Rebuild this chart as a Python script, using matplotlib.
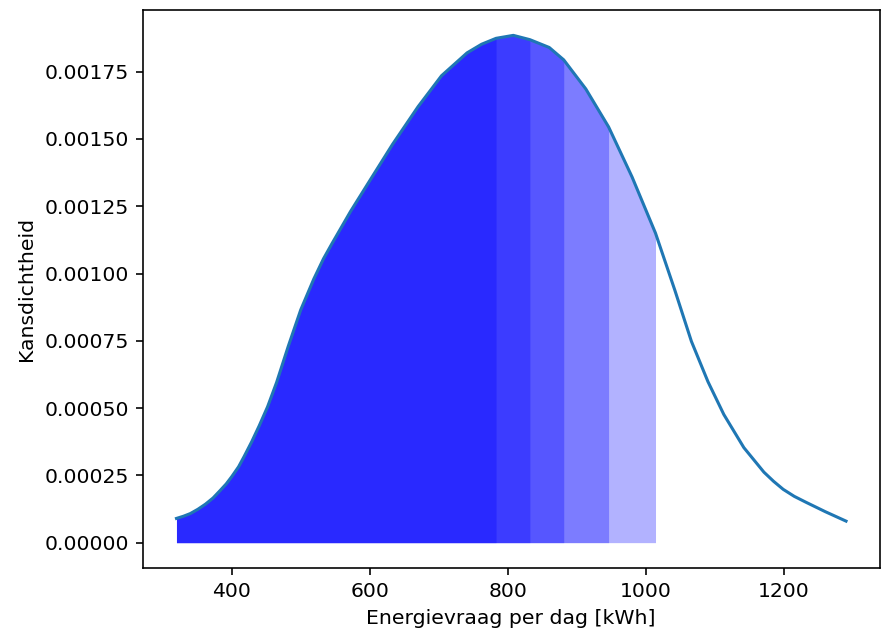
import matplotlib
matplotlib.use("Agg")
import matplotlib.pyplot as plt
import numpy as np

# energy demand per day [kWh] and estimated density
energie = [320, 330, 340, 351, 362, 373, 383, 392, 400, 410, 418, 429, 440,
           452, 465, 482, 500, 519, 533, 545, 572, 600, 633, 670, 704, 741,
           762, 783, 808, 832, 860, 881, 913, 946, 980, 1014, 1042, 1066,
           1090, 1113, 1142, 1171, 1185, 1199, 1215, 1232, 1260, 1290]
dichtheid = [9.0e-5, 9.8e-5, 1.08e-4, 1.24e-4, 1.43e-4, 1.66e-4, 1.93e-4,
             2.18e-4, 2.45e-4, 2.82e-4, 3.2e-4, 3.75e-4, 4.35e-4, 5.05e-4,
             5.95e-4, 7.3e-4, 8.65e-4, 9.8e-4, 1.055e-3, 1.11e-3, 1.23e-3,
             1.345e-3, 1.48e-3, 1.62e-3, 1.735e-3, 1.82e-3, 1.852e-3,
             1.874e-3, 1.885e-3, 1.869e-3, 1.84e-3, 1.794e-3, 1.686e-3,
             1.545e-3, 1.359e-3, 1.150e-3, 9.38e-4, 7.48e-4, 5.98e-4,
             4.76e-4, 3.53e-4, 2.62e-4, 2.28e-4, 1.98e-4, 1.72e-4, 1.50e-4,
             1.15e-4, 8.0e-5]

# right edges of the stacked shaded regions
grenzen = [783, 832, 881, 946, 1014]

x = np.array(energie)
y = np.array(dichtheid)

dpi = 147
fig = plt.figure(figsize=(881 / dpi, 637 / dpi), dpi=dpi)
ax = fig.add_axes([143 / 881, 1 - 568 / 637, 736.5 / 881, 558 / 637])

ax.plot(x, y, color="tab:blue")
for g in grenzen:
    m = x <= g
    ax.fill_between(x[m], y[m], color="blue", alpha=0.3, linewidth=0)

ax.set_xlabel("Energievraag per dag [kWh]")
ax.set_ylabel("Kansdichtheid")

fig.savefig("out.png", dpi=dpi)
